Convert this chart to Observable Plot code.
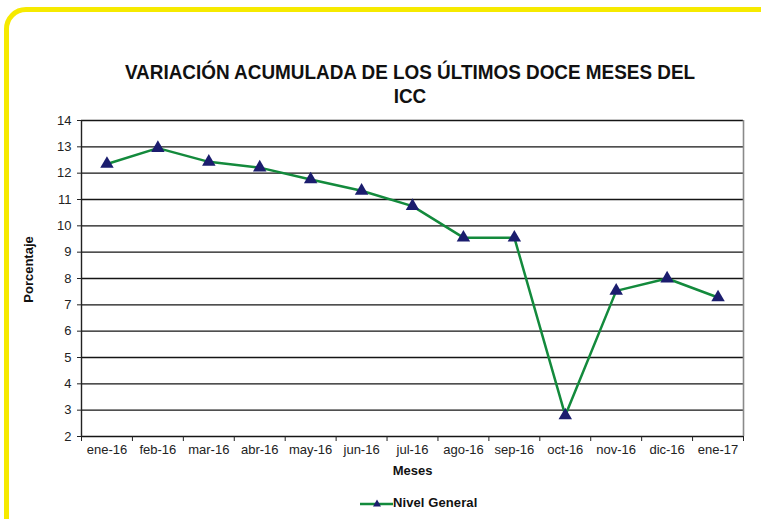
<!DOCTYPE html>
<html><head><meta charset="utf-8">
<script src="https://cdn.jsdelivr.net/npm/d3@7"></script>
<script src="https://cdn.jsdelivr.net/npm/@observablehq/plot@0.6"></script>
<style>
body{margin:0;background:#fff;}
#wrap{position:relative;width:761px;height:519px;overflow:hidden;font-family:"Liberation Sans",Arial,sans-serif;background:#fff;}
#border{position:absolute;left:4px;top:7px;width:830px;height:620px;border:5px solid #f6ea00;border-radius:22px;box-sizing:border-box;}
#title{position:absolute;left:0;top:60px;width:820px;text-align:center;font-weight:bold;font-size:21px;line-height:24px;color:#111;transform:scaleX(0.9);transform-origin:410px 0;}
#chart{position:absolute;left:0;top:0;}
#legend{position:absolute;left:360px;top:495px;font-size:13px;font-weight:bold;color:#111;display:flex;align-items:center;}
</style></head>
<body>
<div id="wrap">
  <div id="border"></div>
  <div id="chart"></div>
  <div id="title">VARIACIÓN ACUMULADA DE LOS ÚLTIMOS DOCE MESES DEL<br>ICC</div>
  <div id="legend"><svg width="33" height="14"><line x1="0" y1="8" x2="33" y2="8" stroke="#138a3c" stroke-width="2.5"/><path d="M17,3.5 L21,10.5 L13,10.5 Z" fill="#1b1d6e"/></svg><span id="legtext" style="margin-left:0px;letter-spacing:0.1px"></span></div>
</div>
<script>
const months = ["ene-16","feb-16","mar-16","abr-16","may-16","jun-16","jul-16","ago-16","sep-16","oct-16","nov-16","dic-16","ene-17"];
const values = [12.35,12.95,12.43,12.21,11.76,11.33,10.75,9.55,9.55,2.8,7.53,8.0,7.28];
const yTicks = [2,3,4,5,6,7,8,9,10,11,12,13,14];
const seriesName = "Nivel General";
document.getElementById("legtext").textContent = seriesName;

const data = months.map((m, i) => ({i, m, v: values[i]}));
const bounds = d3.range(months.length + 1).map(i => i - 0.5);

const chart = Plot.plot({
  width: 761, height: 519,
  marginLeft: 81, marginRight: 18, marginTop: 120, marginBottom: 83,
  style: {fontFamily: "Liberation Sans, Arial, sans-serif", fontSize: "13px", color: "#222", background: "transparent"},
  x: {domain: [-0.5, months.length - 0.5]},
  y: {domain: [2, 14]},
  marks: [
    Plot.ruleY(yTicks, {stroke: "#151515", strokeWidth: 1.4}),
    Plot.ruleX([months.length - 0.5], {stroke: "#8a8a8a", strokeWidth: 1.6}),
    Plot.ruleX([-0.5], {stroke: "#222", strokeWidth: 1.4}),
    Plot.axisY({ticks: yTicks, tickSize: 4, tickPadding: 6, label: null, stroke: "#222", fontSize: 13}),
    Plot.axisX({ticks: bounds, tickSize: 5, tickFormat: () => "", label: null, stroke: "#222"}),
    Plot.axisX({ticks: d3.range(months.length), tickSize: 0, tickPadding: 8, tickFormat: i => months[i], label: null, fontSize: 13}),
    Plot.text(["Meses"], {frameAnchor: "bottom", dy: 38, fontWeight: "bold", fontSize: 13, fill: "#111"}),
    Plot.text(["Porcentaje"], {frameAnchor: "left", textAnchor: "middle", dx: -53, dy: -9, rotate: -90, fontWeight: "bold", fontSize: 13, fill: "#111"}),
    Plot.line(data, {x: "i", y: "v", stroke: "#138a3c", strokeWidth: 2.5}),
    Plot.dot(data, {x: "i", y: "v", symbol: "triangle", r: 5, fill: "#1b1d6e", stroke: null})
  ]
});
document.getElementById("chart").appendChild(chart);
</script>
</body></html>
